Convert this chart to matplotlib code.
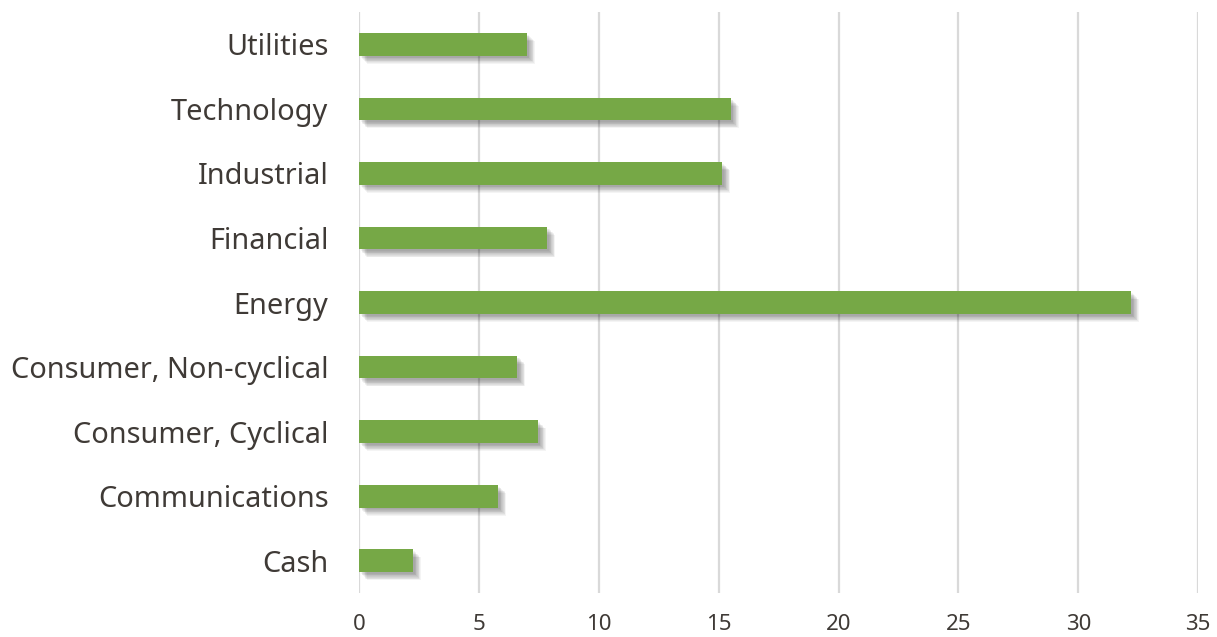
import matplotlib
matplotlib.use('Agg')
import matplotlib.pyplot as plt
import matplotlib.patheffects as pe

# sectors, bottom to top as drawn
sectors = ['Cash', 'Communications', 'Consumer, Cyclical', 'Consumer, Non-cyclical',
           'Energy', 'Financial', 'Industrial', 'Technology', 'Utilities']
weights = [2.25, 5.8, 7.45, 6.6, 32.2, 7.85, 15.15, 15.5, 7.0]
xticks = [0, 5, 10, 15, 20, 25, 30, 35]

plt.rcParams['font.family'] = ['Noto Sans', 'DejaVu Sans']
txt = '#3f3a36'

fig = plt.figure(figsize=(12.17, 6.37), dpi=100)
ax = fig.add_axes([0.295, 0.069, 0.6895, 0.912])

# soft drop shadow built from stacked offset shadows
shadow = []
for k in range(1, 10):
    shadow.append(pe.SimplePatchShadow(offset=(0.8 + 0.55 * k, -0.8 - 0.55 * k),
                                       shadow_rgbFace='black', alpha=0.045))
shadow.append(pe.Normal())

bars = ax.barh(range(len(sectors)), weights, height=0.35, color='#76a846', zorder=3)
for b in bars:
    b.set_path_effects(shadow)

ax.set_xlim(0, 35)
ax.set_ylim(-0.5, len(sectors) - 0.5)
ax.set_xticks(xticks)
ax.set_yticks(range(len(sectors)))
ax.set_yticklabels(sectors)
ax.xaxis.grid(True, color='#d9d9d9', linewidth=1.6, zorder=0)
ax.set_axisbelow(True)
for s in ax.spines.values():
    s.set_visible(False)
ax.tick_params(axis='both', length=0)
ax.tick_params(axis='y', labelsize=20.8, labelcolor=txt, pad=22)
ax.tick_params(axis='x', labelsize=16, labelcolor=txt, pad=15)

fig.savefig('out.png', dpi=100, facecolor='white')
